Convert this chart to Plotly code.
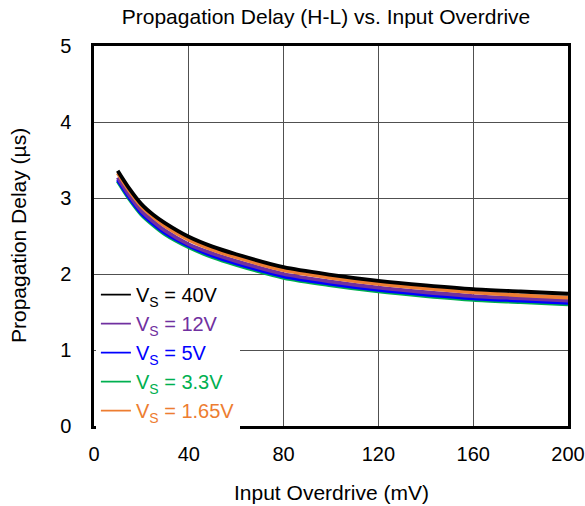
import plotly.graph_objects as go

overdrive_mv = [10, 15, 20, 25, 30, 40, 50, 60, 80, 100, 120, 140, 160, 180, 200]
delay_40v = [3.36, 3.12, 2.92, 2.78, 2.67, 2.49, 2.36, 2.26, 2.09, 1.99, 1.91, 1.85, 1.80, 1.77, 1.74]
delay_1p65v = [3.33, 3.09, 2.89, 2.75, 2.63, 2.45, 2.32, 2.22, 2.05, 1.95, 1.87, 1.81, 1.76, 1.72, 1.69]
delay_12v = [3.27, 3.03, 2.83, 2.69, 2.57, 2.39, 2.27, 2.17, 2.00, 1.90, 1.82, 1.76, 1.71, 1.68, 1.65]
delay_5v = [3.24, 3.00, 2.80, 2.66, 2.54, 2.37, 2.24, 2.14, 1.97, 1.87, 1.79, 1.73, 1.68, 1.65, 1.62]
delay_3p3v = [3.22, 2.98, 2.78, 2.64, 2.52, 2.35, 2.22, 2.12, 1.95, 1.85, 1.77, 1.71, 1.66, 1.63, 1.60]

x_ticks = [0, 40, 80, 120, 160, 200]
y_ticks = [0, 1, 2, 3, 4, 5]

# (label, values, color, legend rank) in drawing order (black on top)
series = [
    ("3.3V", delay_3p3v, "#00B050", 4),
    ("5V", delay_5v, "#0000FF", 3),
    ("12V", delay_12v, "#7030A0", 2),
    ("1.65V", delay_1p65v, "#ED7D31", 5),
    ("40V", delay_40v, "#000000", 1),
]

FONT = "Arial, Liberation Sans, sans-serif"
W, H = 585, 506

fig = go.Figure()
for label, vals, color, rank in series:
    fig.add_trace(go.Scatter(
        x=overdrive_mv, y=vals, mode="lines",
        line=dict(color=color, width=3.8, shape="spline", smoothing=0.8),
        showlegend=False, hoverinfo="x+y",
    ))
# legend entries with thin line keys
for label, vals, color, rank in series:
    fig.add_trace(go.Scatter(
        x=[None], y=[None], mode="lines",
        line=dict(color=color, width=1.8),
        name=f"<span style='color:{color}'>V<sub>S</sub> = {label}</span>",
        legendrank=rank, showlegend=True,
    ))

fig.update_layout(
    width=W, height=H,
    margin=dict(l=94, r=17, t=46, b=80, autoexpand=False),
    paper_bgcolor="white", plot_bgcolor="white",
    font=dict(family=FONT, size=20, color="black"),
    title=dict(text="Propagation Delay (H-L) vs. Input Overdrive",
               x=326 / W, xanchor="center", xref="container",
               y=1 - 17 / H, yanchor="middle", yref="container",
               font=dict(size=21, color="black")),
    legend=dict(x=0.004, xanchor="left", y=0.397, yanchor="top",
                bgcolor="white", borderwidth=0,
                font=dict(size=20, family=FONT),
                itemwidth=30, tracegroupgap=0),
    xaxis=dict(range=[0, 200], tickvals=x_ticks, ticktext=[str(v) for v in x_ticks],
               showgrid=True, gridcolor="#505050", gridwidth=1.2,
               showline=True, linecolor="black", linewidth=2.5, mirror=True,
               ticks="", ticklabelstandoff=8, zeroline=False, automargin=False,
               tickfont=dict(size=20)),
    yaxis=dict(range=[0, 5], tickvals=y_ticks, ticktext=[str(v) for v in y_ticks],
               showgrid=True, gridcolor="#505050", gridwidth=1.2,
               showline=True, linecolor="black", linewidth=2.5, mirror=True,
               ticks="", ticklabelstandoff=16, zeroline=False, automargin=False,
               tickfont=dict(size=20)),
    annotations=[
        dict(text="Input Overdrive (mV)", xref="paper", yref="paper",
             x=0.502, y=(426 - 492) / 380, xanchor="center", yanchor="middle",
             showarrow=False, font=dict(size=21)),
        dict(text="Propagation Delay (µs)", xref="paper", yref="paper",
             x=(18 - 94) / 474, y=0.5, xanchor="center", yanchor="middle",
             textangle=-90, showarrow=False, font=dict(size=21)),
    ],
)

fig.write_html(
    "out.html",
    config={"displayModeBar": False},
    post_script="document.body.style.margin='0';document.body.style.overflow='hidden';",
)
